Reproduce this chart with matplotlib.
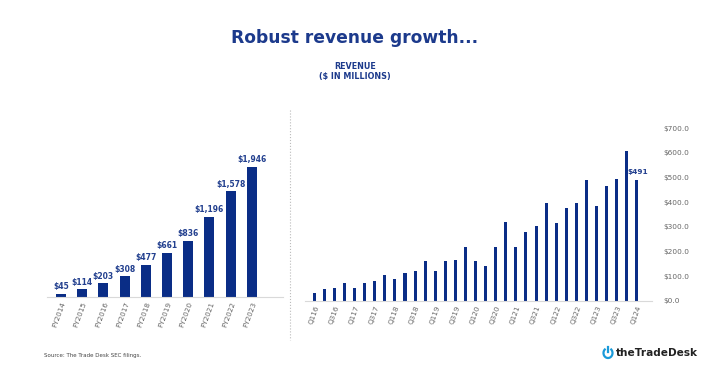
import numpy as np
import matplotlib
matplotlib.use("Agg")
from matplotlib import pyplot as plt
from matplotlib.patches import Arc

# annual revenue ($M)
years = ["FY2014", "FY2015", "FY2016", "FY2017", "FY2018",
         "FY2019", "FY2020", "FY2021", "FY2022", "FY2023"]
annual_rev = [45, 114, 203, 308, 477, 661, 836, 1196, 1578, 1946]
annual_labels = ["$45", "$114", "$203", "$308", "$477",
                 "$661", "$836", "$1,196", "$1,578", "$1,946"]

# quarterly revenue ($M), Q116 .. Q124
quarters = [f"Q{q}{y}" for y in range(16, 24) for q in range(1, 5)] + ["Q124"]
quarterly_rev = [31, 47, 53, 73, 53, 73, 80, 103, 87, 112, 119, 161,
                 122, 161, 165, 218, 161, 141, 218, 319, 220, 280, 302, 396,
                 315, 378, 396, 491, 383, 465, 494, 606, 491]
y_ticks = [0, 100, 200, 300, 400, 500, 600, 700]

BAR = "#0a2d86"
LABEL = "#23408f"
TITLE = "#1c3a8c"
GRAY = "#666666"

fig = plt.figure(figsize=(7.1, 3.68), dpi=100)

fig.text(0.5, 0.897, "Robust revenue growth...", ha="center", va="center",
         fontsize=12.3, fontweight="bold", color=TITLE)
fig.text(0.5, 0.818, "REVENUE", ha="center", va="center",
         fontsize=5.8, fontweight="bold", color=TITLE)
fig.text(0.5, 0.793, "($ IN MILLIONS)", ha="center", va="center",
         fontsize=5.8, fontweight="bold", color=TITLE)

# left: annual
ax1 = fig.add_axes([47 / 710, 0.193, 236 / 710, 0.40])
x1 = np.arange(len(years))
ax1.bar(x1, annual_rev, width=0.47, color=BAR)
for xi, v, lab in zip(x1, annual_rev, annual_labels):
    ax1.text(xi, v + 40, lab, ha="center", va="bottom", fontsize=5.5,
             fontweight="bold", color=LABEL)
ax1.set_xlim(-0.66, 10.47)
ax1.set_ylim(0, 1946 * 147 / 130)
ax1.set_xticks(x1)
ax1.set_xticklabels(years, rotation=70, ha="right", rotation_mode="anchor",
                    fontsize=5.2, color=GRAY)
ax1.set_yticks([])
for s in ["top", "right", "left"]:
    ax1.spines[s].set_visible(False)
ax1.spines["bottom"].set_color("#d9d9d9")
ax1.tick_params(axis="x", length=0, pad=3)

# right: quarterly
ax2 = fig.add_axes([305 / 710, 67.3 / 368, 347 / 710, 172.4 / 368])
x2 = np.arange(len(quarters))
ax2.bar(x2, quarterly_rev, width=0.3, color=BAR)
ax2.text(x2[-1] + 0.1, quarterly_rev[-1] + 20, "$491", ha="center", va="bottom",
         fontsize=5.3, fontweight="bold", color=LABEL)
ax2.set_xlim(-0.92, 33.5)
ax2.set_ylim(0, 700)
ax2.set_xticks(x2[::2])
ax2.set_xticklabels(quarters[::2], rotation=70, ha="right", rotation_mode="anchor",
                    fontsize=5.2, color=GRAY)
ax2.yaxis.tick_right()
ax2.set_yticks(y_ticks)
ax2.set_yticklabels([f"${v:.1f}" for v in y_ticks], fontsize=5.3, color=GRAY)
for s in ["top", "right", "left"]:
    ax2.spines[s].set_visible(False)
ax2.spines["bottom"].set_color("#d9d9d9")
ax2.tick_params(axis="both", length=0)
ax2.tick_params(axis="x", pad=3)
ax2.tick_params(axis="y", pad=8)

# dotted divider
fig.add_artist(plt.Line2D([290 / 710, 290 / 710], [1 - 110 / 368, 1 - 340 / 368],
                          color="#bbbbbb", linestyle=":", linewidth=0.8))

fig.text(44 / 710, 1 - 355 / 368, "Source: The Trade Desk SEC filings.",
         ha="left", va="center", fontsize=4.0, color="#444444")

# logo: power icon drawn as shape + word mark
icon_x, icon_y = 608, 368 - 353
fig.add_artist(Arc((icon_x, icon_y), 9, 10, theta1=120, theta2=60,
                   transform=None, color="#1a9ad9", linewidth=1.6))
fig.add_artist(plt.Line2D([icon_x, icon_x], [icon_y + 1, icon_y + 6.5],
                          transform=None, color="#1a9ad9", linewidth=1.6))
fig.text(616 / 710, 1 - 353 / 368, "theTradeDesk", ha="left", va="center",
         fontsize=7.6, fontweight="bold", color="#222222")

fig.savefig("out.png", dpi=100)
